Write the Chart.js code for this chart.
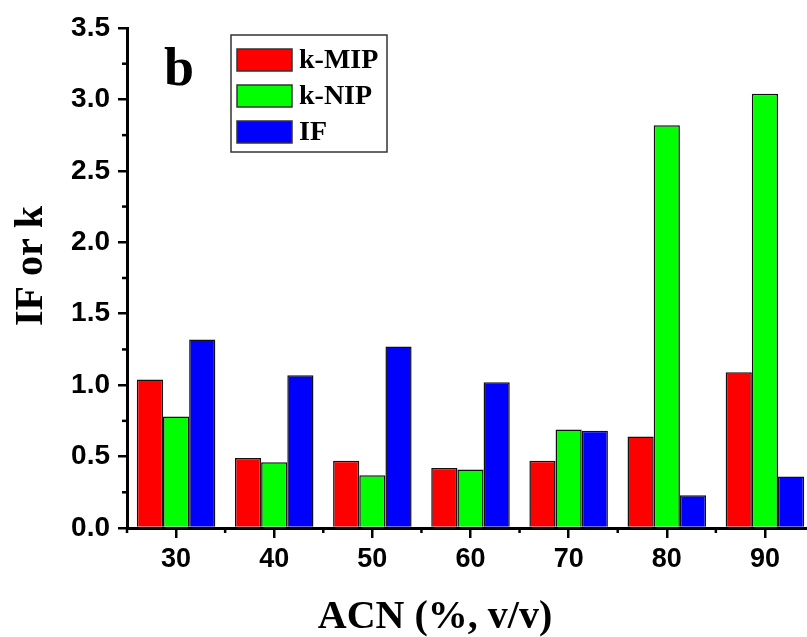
<!DOCTYPE html>
<html>
<head>
<meta charset="utf-8">
<script src="https://cdn.jsdelivr.net/npm/chart.js@4.4.1/dist/chart.umd.min.js"></script>
<style>
  html, body { margin: 0; padding: 0; background: #fff; overflow: hidden; }
  #chart_bar { display: block; }
</style>
</head>
<body>
<canvas id="chart_bar" width="830" height="637"></canvas>
<script>
// Data
var acn_labels = ["30", "40", "50", "60", "70", "80", "90"]
var k_mip = [1.04, 0.49, 0.47, 0.42, 0.47, 0.64, 1.09]
var k_nip = [0.78, 0.46, 0.37, 0.41, 0.69, 2.82, 3.04]
var imp_factor = [1.32, 1.07, 1.27, 1.02, 0.68, 0.23, 0.36]
var series_names = ["k-MIP", "k-NIP", "IF"]
var series_colors = ["#ff0000", "#00ff00", "#0000ff"]

var sans = "'Liberation Sans', Arial, sans-serif"
var serif = "'Liberation Serif', 'Times New Roman', serif"

// extra drawing: minor ticks, axis titles, panel letter, legend box
var extras = {
  id: 'extras',
  afterDraw: function(chart) {
    var ctx = chart.ctx
    var xs = chart.scales.x, ys = chart.scales.y
    var area = chart.chartArea
    ctx.save()
    ctx.strokeStyle = '#000'
    ctx.lineWidth = 2.5
    // minor y ticks
    for (var v = 0.25; v < 3.5; v += 0.5) {
      var py = ys.getPixelForValue(v)
      ctx.beginPath(); ctx.moveTo(area.left - 5, py); ctx.lineTo(area.left, py); ctx.stroke()
    }
    // minor x ticks at category borders
    var w = xs.getPixelForValue(1) - xs.getPixelForValue(0)
    for (var i = 0; i <= acn_labels.length; i++) {
      var px = xs.getPixelForValue(0) + (i - 0.5) * w
      ctx.beginPath(); ctx.moveTo(px, area.bottom); ctx.lineTo(px, area.bottom + 5); ctx.stroke()
    }

    ctx.fillStyle = '#000'
    // axis titles
    ctx.font = 'bold 40px ' + serif
    ctx.textAlign = 'center'
    ctx.textBaseline = 'alphabetic'
    ctx.fillText('ACN (%, v/v)', 435, 628)
    ctx.save()
    ctx.translate(42, 266)
    ctx.rotate(-Math.PI / 2)
    ctx.fillText('IF or k', 0, 0)
    ctx.restore()

    // panel letter
    ctx.textAlign = 'left'
    ctx.font = 'bold 54px ' + serif
    ctx.fillText('b', 164, 85)

    // legend
    ctx.lineWidth = 1.5
    ctx.strokeStyle = '#333'
    ctx.strokeRect(231, 35, 156, 117)
    ctx.font = 'bold 28px ' + serif
    chart.data.datasets.forEach(function(ds, k) {
      var top = 49 + k * 36
      ctx.fillStyle = ds.backgroundColor
      ctx.fillRect(237, top, 55, 22)
      ctx.strokeStyle = '#333'
      ctx.strokeRect(237, top, 55, 22)
      ctx.fillStyle = '#000'
      ctx.fillText(ds.label, 299, top + 19)
    })
    ctx.restore()
  }
}

var config = {
  type: 'bar',
  data: {
    labels: acn_labels,
    datasets: [{
      label: series_names[0],
      data: k_mip,
      backgroundColor: series_colors[0]
    }, {
      label: series_names[1],
      data: k_nip,
      backgroundColor: series_colors[1]
    }, {
      label: series_names[2],
      data: imp_factor,
      backgroundColor: series_colors[2]
    }]
  },
  options: {
    responsive: false,
    animation: false,
    layout: { padding: { top: 28, left: 0, right: 16, bottom: 0 } },
    datasets: {
      bar: {
        borderColor: '#111',
        borderWidth: 1.5,
        borderSkipped: 'bottom',
        barPercentage: 1.0,
        categoryPercentage: 0.8
      }
    },
    plugins: {
      legend: { display: false },
      title: { display: false },
      tooltip: { enabled: false }
    },
    scales: {
      x: {
        offset: true,
        afterFit: function(scale) { scale.height = 109 },
        grid: {
          display: true,
          drawOnChartArea: false,
          offset: false,
          color: '#000',
          lineWidth: 2.5,
          tickLength: 10
        },
        border: { display: true, color: '#000', width: 3 },
        ticks: { color: '#000', font: { family: sans, weight: 'bold', size: 27 }, padding: 5, maxRotation: 0 }
      },
      y: {
        min: 0,
        max: 3.5,
        afterFit: function(scale) { scale.width = 127 },
        grid: {
          display: true,
          drawOnChartArea: false,
          color: '#000',
          lineWidth: 2.5,
          tickLength: 9
        },
        border: { display: true, color: '#000', width: 3 },
        ticks: {
          stepSize: 0.5,
          color: '#000',
          font: { family: sans, weight: 'bold', size: 28 },
          padding: 8,
          callback: function(v) { return v.toFixed(1) }
        }
      }
    }
  },
  plugins: [extras]
}

var ctx = document.getElementById("chart_bar")
var ch_bar = new Chart(ctx, config)
</script>
</body>
</html>
